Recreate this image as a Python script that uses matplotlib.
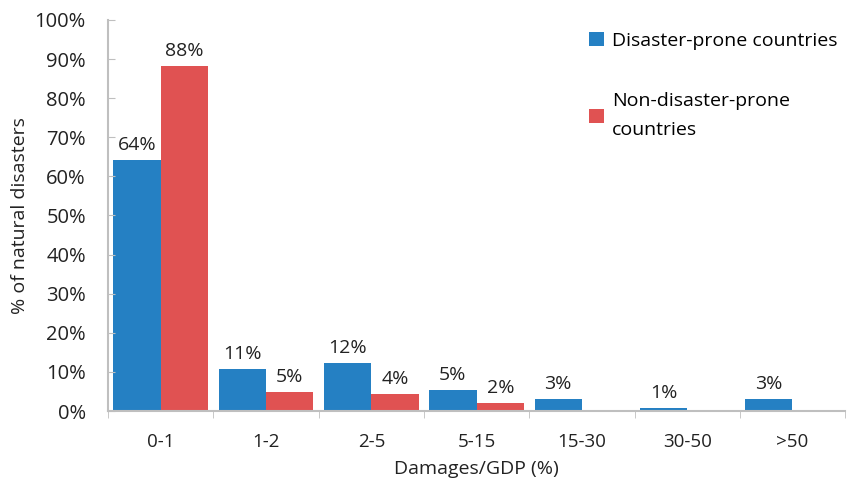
import numpy as np
import matplotlib.pyplot as plt

plt.rcParams['font.family'] = ['Open Sans', 'DejaVu Sans']

categories = ['0-1', '1-2', '2-5', '5-15', '15-30', '30-50', '>50']
prone = [64.3, 10.8, 12.4, 5.4, 3.1, 0.8, 3.1]
non_prone = [88.2, 4.9, 4.3, 2.0, 0.3, 0.0, 0.0]
prone_labels = ['64%', '11%', '12%', '5%', '3%', '1%', '3%']
non_prone_labels = ['88%', '5%', '4%', '2%', '', '', '']

blue = '#2580C3'
red = '#E05252'
grey = '#BFBFBF'
txt = '#222222'

fig = plt.figure(figsize=(8.65, 4.87), dpi=100)
ax = fig.add_axes([0.125, 0.156, 0.852, 0.803])

x = np.arange(len(categories))
w = 0.45
b1 = ax.bar(x - w / 2, prone, w, color=blue, label='Disaster-prone countries')
b2 = ax.bar(x + w / 2, non_prone, w, color=red, label='Non-disaster-prone\ncountries')

for bars, labs in ((b1, prone_labels), (b2, non_prone_labels)):
    for bar, lab in zip(bars, labs):
        if lab:
            ax.text(bar.get_x() + bar.get_width() / 2, bar.get_height() + 1.5, lab,
                    ha='center', va='bottom', fontsize=14, color=txt)

ax.set_xlim(-0.5, len(categories) - 0.5)
ax.set_ylim(0, 100)
ax.set_yticks(np.arange(0, 101, 10))
ax.set_yticklabels([f'{v}%' for v in range(0, 101, 10)])
ax.set_xticks(x)
ax.set_xticklabels(categories)
ax.set_xticks(np.arange(-0.5, len(categories)), minor=True)
ax.tick_params(axis='x', which='major', length=0, labelsize=13.5, pad=16, colors=txt)
ax.tick_params(axis='x', which='minor', length=5, color=grey, direction='out')
ax.tick_params(axis='y', length=5, direction='in', labelsize=14.5, pad=16, colors=txt)
ax.tick_params(axis='y', color=grey)

for s in ['top', 'right']:
    ax.spines[s].set_visible(False)
for s in ['left', 'bottom']:
    ax.spines[s].set_color(grey)
    ax.spines[s].set_linewidth(1.5)

ax.set_xlabel('Damages/GDP (%)', fontsize=14, color=txt, labelpad=6)
ax.set_ylabel('% of natural disasters', fontsize=14, color=txt, labelpad=4)

leg = ax.legend(loc='upper left', bbox_to_anchor=(0.670, 0.955), bbox_transform=fig.transFigure,
                frameon=False, fontsize=14, handlelength=0.75, handleheight=0.75,
                handletextpad=0.4, labelspacing=2.2, borderpad=0)
for t in leg.get_texts():
    t.set_linespacing(1.75)

fig.savefig('out.png', dpi=100)
